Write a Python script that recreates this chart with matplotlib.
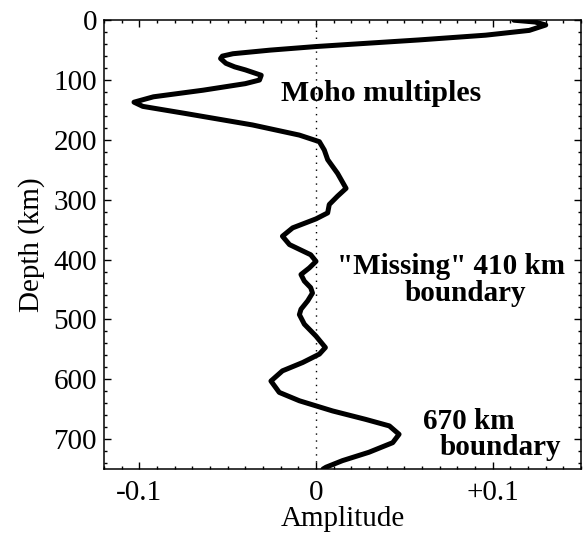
import numpy as np
import matplotlib
matplotlib.use('Agg')
import matplotlib.pyplot as plt
from matplotlib.ticker import MultipleLocator

plt.rcParams['font.family'] = 'Liberation Serif'

# receiver function trace
amplitude = [0.112, 0.124, 0.130, 0.1207, 0.096, 0.058, 0.021, 0.000, -0.026, -0.047,
             -0.053, -0.054, -0.051, -0.046, -0.040, -0.031, -0.032, -0.040, -0.064, -0.092,
             -0.103, -0.098, -0.0736, -0.036, -0.0094, 0.0019, 0.0047, 0.0066, 0.0122, 0.017,
             0.0122, 0.0075, 0.0066, 0.000, -0.0132, -0.019, -0.015, -0.003, 0.000, -0.0038,
             -0.0085, -0.0066, -0.003, -0.002, -0.0047, -0.0085, -0.0094, -0.0066, 0.000, 0.0053,
             0.0019, -0.0075, -0.019, -0.0255, -0.0208, -0.0094, 0.0094, 0.028, 0.0415, 0.047,
             0.0434, 0.030, 0.015, 0.0057, 0.004]
depth = [0, 3, 8, 17, 25, 33, 40, 44, 50, 56,
         60, 64, 72, 78, 83, 92, 100, 106, 117, 128,
         137, 144, 156, 175, 192, 203, 217, 233, 256, 281,
         294, 308, 322, 332, 347, 361, 375, 392, 403, 414,
         425, 436, 447, 456, 469, 483, 492, 508, 528, 547,
         558, 572, 586, 603, 622, 636, 653, 667, 678, 692,
         706, 722, 736, 747, 750]

fig = plt.figure(figsize=(5.84, 5.42), dpi=100)
ax = fig.add_axes([0.178, 0.1347, 0.817, 0.828])

ax.plot(amplitude, depth, color='black', lw=3.6, solid_capstyle='round', solid_joinstyle='round')
ax.axvline(0, color='black', ls=(0, (1, 4)), lw=1.0)

ax.set_xlim(-0.12, 0.15)
ax.set_ylim(750, 0)

ax.set_xticks([-0.1, 0, 0.1])
ax.set_xticklabels(['-0.1', '0', '+0.1'])
ax.xaxis.set_minor_locator(MultipleLocator(0.01))
ax.set_yticks(np.arange(0, 800, 100))
ax.yaxis.set_minor_locator(MultipleLocator(20))

ax.tick_params(which='both', direction='in', top=True, right=True, width=1.0)
ax.tick_params(which='major', length=5, labelsize=21)
ax.tick_params(which='minor', length=2.5)
ax.tick_params(axis='x', which='major', pad=8)
ax.tick_params(axis='y', which='major', pad=5)
for s in ax.spines.values():
    s.set_linewidth(1.1)

ax.set_xlabel('Amplitude', fontsize=21, labelpad=0)
ax.set_ylabel('Depth (km)', fontsize=21, labelpad=6)

ax.text(-0.0198, 123, 'Moho multiples', fontsize=21.5, fontweight='bold', va='center', ha='left')
ax.text(0.0763, 411, '"Missing" 410 km', fontsize=21, fontweight='bold', va='center', ha='center')
ax.text(0.0847, 456, 'boundary', fontsize=21, fontweight='bold', va='center', ha='center')
ax.text(0.0862, 670, '670 km', fontsize=21, fontweight='bold', va='center', ha='center')
ax.text(0.1046, 714, 'boundary', fontsize=21, fontweight='bold', va='center', ha='center')

plt.savefig('out.png', dpi=100)
